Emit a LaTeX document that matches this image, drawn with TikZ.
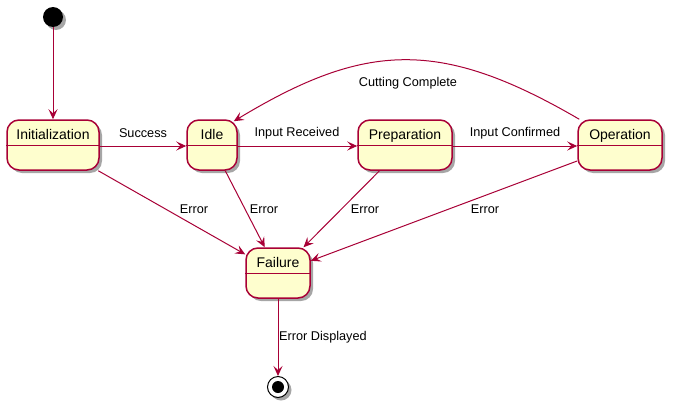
\documentclass[tikz,border=0pt]{standalone}
\usepackage{fontspec}
\setmainfont{Liberation Sans}
\usetikzlibrary{arrows.meta,shadows}
\definecolor{pborder}{HTML}{A80036}
\definecolor{pfill}{HTML}{FEFECE}
\tikzset{
  pshadow/.style={drop shadow={shadow xshift=3pt, shadow yshift=-3pt, opacity=0.35, fill=black}},
  state/.style={draw=pborder, fill=pfill, line width=1.5pt, rounded corners=12pt, inner sep=0pt,
    minimum height=50pt, text height=19.5pt, text depth=30.5pt, font=\fontsize{14}{16}\selectfont, pshadow},
  divider/.style={draw=pborder, line width=1.5pt},
  trans/.style={draw=pborder, line width=1pt, -{Stealth[length=10pt,width=9pt,inset=4pt]}},
  lbl/.style={font=\fontsize{12.7}{15}\selectfont, inner sep=0pt},
}
\begin{document}
\begin{tikzpicture}[x=1pt,y=-1pt]
\useasboundingbox (0,0) rectangle (674,407);
% states
\node[state, minimum width=92pt] (init) at (53,145) {Initialization};
\node[state, minimum width=50pt] (idle) at (212,145) {Idle};
\node[state, minimum width=94pt] (prep) at (405,145) {Preparation};
\node[state, minimum width=84pt] (op) at (620,145) {Operation};
\node[state, minimum width=64pt] (fail) at (278,273) {Failure};
\foreach \n in {init,idle,prep,op,fail}
  \draw[divider] ([yshift=-26pt]\n.north west) -- ([yshift=-26pt]\n.north east);
% start / end
\node[circle, fill=black, minimum size=20pt, inner sep=0pt, pshadow] (start) at (53,17) {};
\node[circle, draw=black, fill=white, minimum size=21pt, inner sep=0pt, line width=1pt, pshadow] (end) at (278,387) {};
\node[circle, fill=black, minimum size=12pt, inner sep=0pt] (endin) at (end) {};
% transitions
\draw[trans] (start) -- (init);
\draw[trans] ([yshift=-1pt]init.east) -- ([yshift=-1pt]idle.west);
\draw[trans] ([yshift=-1pt]idle.east) -- ([yshift=-1pt]prep.west);
\draw[trans] ([yshift=-1pt]prep.east) -- ([yshift=-1pt]op.west);
\draw[trans] ([xshift=2pt]op.north west) .. controls (440,38) and (365,42) .. ([xshift=-4pt,yshift=-2pt]idle.north east);
\draw[trans] (init) -- (fail);
\draw[trans] (idle) -- (fail);
\draw[trans] (prep) -- (fail);
\draw[trans] (op) -- (fail);
\draw[trans] (fail) -- (end);
% labels
\node[lbl] (l1) at (143,133) {Success};
\node[lbl] (l2) at (297,133) {Input Received};
\node[lbl] (l3) at (515,133) {Input Confirmed};
\node[lbl] (l4) at (408,83) {Cutting Complete};
\node[lbl] (l5) at (194,209) {Error};
\node[lbl] (l6) at (264,209) {Error};
\node[lbl] (l7) at (365,209) {Error};
\node[lbl] (l8) at (485,209) {Error};
\node[lbl, anchor=west] (l9) at (279,337) {Error Displayed};
\end{tikzpicture}
\end{document}
